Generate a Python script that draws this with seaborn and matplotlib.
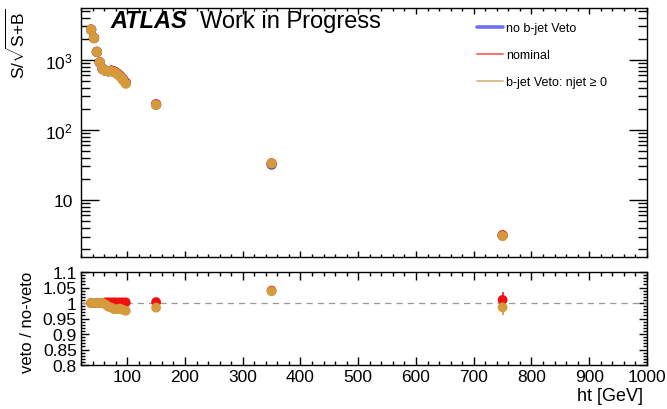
import numpy as np
import pandas as pd
import matplotlib
matplotlib.use("Agg")
import matplotlib.pyplot as plt
import seaborn as sns
from matplotlib.lines import Line2D
from matplotlib.ticker import FixedLocator, MultipleLocator, LogLocator, NullFormatter

# ---------------- data ----------------
ht = [37.5, 42.5, 47.5, 52.5, 57.5, 62.5, 67.5, 72.5, 77.5, 82.5, 87.5, 92.5, 97.5, 150, 350, 750]

sig_noveto = [2700, 2050, 1300, 920, 740, 700, 690, 700, 680, 640, 590, 530, 470, 230, 32.0, 3.10]
sig_nominal = [2700, 2050, 1300, 920, 740, 701, 691, 701, 681, 641, 591, 531, 471, 231, 33.3, 3.13]
sig_bveto = [2700, 2050, 1300, 920, 740, 697, 682, 690, 666, 627, 578, 518, 458, 227, 33.2, 3.06]

ratio_nominal = [1.0, 1.0, 1.0, 1.0, 1.0, 1.002, 1.002, 1.002, 1.002, 1.002, 1.002, 1.002, 1.002, 1.003, 1.040, 1.010]
ratio_bveto = [1.0, 1.0, 1.0, 1.0, 1.0, 0.995, 0.988, 0.985, 0.980, 0.980, 0.982, 0.978, 0.975, 0.985, 1.038, 0.986]
ratio_err = [0.001, 0.001, 0.001, 0.001, 0.001, 0.001, 0.001, 0.001, 0.001, 0.001, 0.001, 0.001, 0.001, 0.002, 0.006, 0.026]

series_names = ["no b-jet Veto", "nominal", "b-jet Veto: njet \u2265 0"]
marker_colors = ["#3a3ad0", "#f01010", "#d49a3c"]
legend_colors = ["#7070f0", "#ff7070", "#d8c08c"]
legend_widths = [2.6, 1.4, 1.4]

yticks_top = [10, 100, 1000]
yticklabels_top = ["10", "10$^{2}$", "10$^{3}$"]
ratio_ticks = [0.8, 0.85, 0.9, 0.95, 1.0, 1.05, 1.1]
ratio_ticklabels = ["0.8", "0.85", "0.9", "0.95", "1", "1.05", "1.1"]
xticks = [100, 200, 300, 400, 500, 600, 700, 800, 900, 1000]

# ---------------- style ----------------
sns.set_theme(style="ticks")
plt.rcParams["font.family"] = ["Liberation Sans", "DejaVu Sans"]
plt.rcParams["mathtext.fontset"] = "custom"
plt.rcParams["mathtext.rm"] = "Liberation Sans"
plt.rcParams["mathtext.it"] = "Liberation Sans:italic"
plt.rcParams["mathtext.bf"] = "Liberation Sans:bold"
plt.rcParams["axes.edgecolor"] = "black"
plt.rcParams["axes.linewidth"] = 1.0
plt.rcParams["text.color"] = "black"
plt.rcParams["axes.labelcolor"] = "black"
plt.rcParams["xtick.color"] = "black"
plt.rcParams["ytick.color"] = "black"

fig = plt.figure(figsize=(6.67, 4.10), dpi=100)
W, H = 667, 410
ax_top = fig.add_axes([81 / W, 1 - 258 / H, 566 / W, 249 / H])
ax_bot = fig.add_axes([81 / W, 1 - 366 / H, 566 / W, 93 / H])

df_top = pd.DataFrame({
    "ht": ht * 3,
    "val": sig_noveto + sig_nominal + sig_bveto,
    "series": [series_names[0]] * len(ht) + [series_names[1]] * len(ht) + [series_names[2]] * len(ht),
})
sns.scatterplot(data=df_top, x="ht", y="val", hue="series", palette=dict(zip(series_names, marker_colors)),
                s=55, linewidth=0, ax=ax_top, legend=False, zorder=3)
ax_top.set_yscale("log")
ax_top.set_xlim(20, 1000)
ax_top.set_ylim(1.53, 5500)

df_bot = pd.DataFrame({
    "ht": ht * 2,
    "ratio": ratio_nominal + ratio_bveto,
    "err": ratio_err * 2,
    "series": [series_names[1]] * len(ht) + [series_names[2]] * len(ht),
})
for name, col in zip(series_names[1:], marker_colors[1:]):
    sub = df_bot[df_bot["series"] == name]
    ax_bot.errorbar(sub["ht"], sub["ratio"], yerr=sub["err"], fmt="none", ecolor=col, elinewidth=1.2, zorder=2)
sns.scatterplot(data=df_bot, x="ht", y="ratio", hue="series", palette=dict(zip(series_names[1:], marker_colors[1:])),
                s=50, linewidth=0, ax=ax_bot, legend=False, zorder=3)
ax_bot.axhline(1.0, color="#999999", lw=0.9, ls=(0, (5, 4)), zorder=1)
ax_bot.set_xlim(20, 1000)
ax_bot.set_ylim(0.8, 1.1)

# ---------------- ticks ----------------
for ax in (ax_top, ax_bot):
    ax.tick_params(which="both", direction="in", top=True, right=True, colors="black")
    ax.xaxis.set_major_locator(FixedLocator(xticks))
    ax.xaxis.set_minor_locator(MultipleLocator(20))

ax_top.yaxis.set_major_locator(FixedLocator(yticks_top))
ax_top.set_yticklabels(yticklabels_top)
ax_top.yaxis.set_minor_locator(LogLocator(base=10, subs=np.arange(2, 10)))
ax_top.yaxis.set_minor_formatter(NullFormatter())
ax_top.tick_params(axis="y", which="major", length=13, width=1, labelsize=12.5, pad=6)
ax_top.tick_params(axis="y", which="minor", length=6.5, width=1)
ax_top.tick_params(axis="x", which="major", length=4.5, width=1, labelbottom=False)
ax_top.tick_params(axis="x", which="minor", length=2.5, width=1)

ax_bot.yaxis.set_major_locator(FixedLocator(ratio_ticks))
ax_bot.set_yticklabels(ratio_ticklabels)
ax_bot.yaxis.set_minor_locator(MultipleLocator(0.01))
ax_bot.tick_params(axis="y", which="major", length=6, width=1, labelsize=12.5, pad=3)
ax_bot.tick_params(axis="y", which="minor", length=3, width=1)
ax_bot.tick_params(axis="x", which="major", length=6, width=1, labelsize=12.5, pad=3)
ax_bot.tick_params(axis="x", which="minor", length=3, width=1)
ax_bot.set_xticklabels([str(t) for t in xticks])

# ---------------- labels ----------------
ax_top.set_xlabel("")
ax_top.set_ylabel(r"S/$\sqrt{\mathrm{S}{+}\mathrm{B}}$", fontsize=12.5, loc="top")
ax_top.yaxis.set_label_coords(-0.094, 1.0)
ax_bot.set_ylabel("veto / no-veto", fontsize=12)
ax_bot.yaxis.set_label_coords(-0.081, 0.47)
ax_bot.set_xlabel("ht [GeV]", fontsize=13, loc="right")
ax_bot.xaxis.set_label_coords(0.993, -0.237)

fig.text(110 / W, 1 - 22 / H, "ATLAS", fontsize=17, fontweight="bold", fontstyle="italic", va="center", ha="left")
fig.text(200 / W, 1 - 22 / H, "Work in Progress", fontsize=17, va="center", ha="left")

handles = [Line2D([0], [0], color=c, lw=w) for c, w in zip(legend_colors, legend_widths)]
ax_top.legend(handles, series_names, loc="upper left", bbox_to_anchor=(472 / W, 1 - 18 / H),
              bbox_transform=fig.transFigure, frameon=False, fontsize=9, handlelength=2.1,
              handletextpad=0.25, labelspacing=1.2, borderaxespad=0)

fig.savefig("out.png", dpi=100)
